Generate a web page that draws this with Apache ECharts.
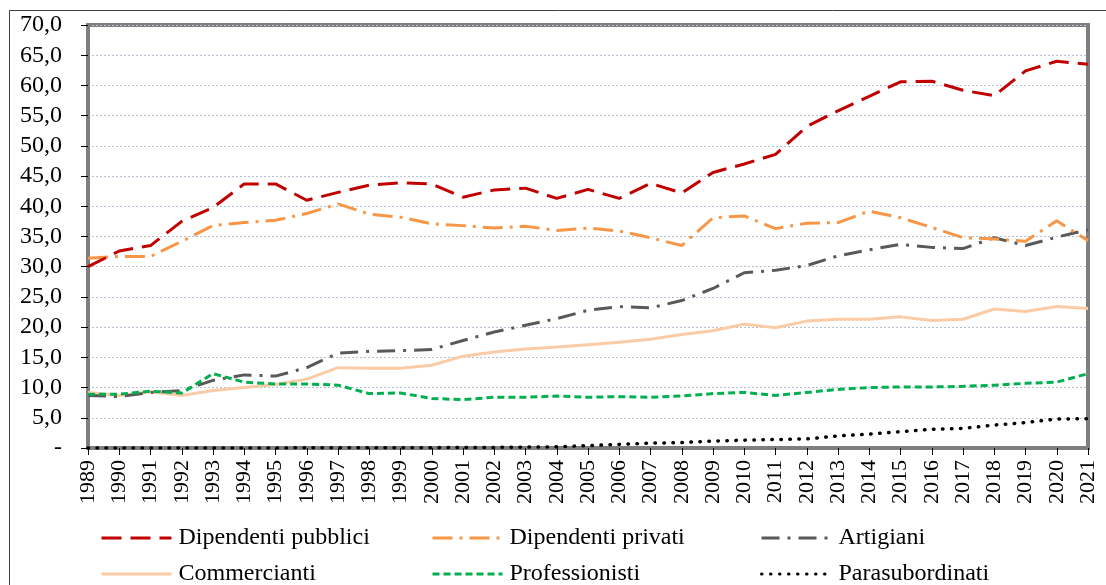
<!doctype html>
<html>
    <head>
        <meta charset="utf-8">
        <title>Line chart</title>
        <style>
            html, body { margin: 0; padding: 0; background: #fff; }
            #main { width: 1106px; height: 585px; }
        </style>
    </head>
    <body>
        <div id="main"></div>
        <script src="https://cdn.jsdelivr.net/npm/echarts@6/dist/echarts.min.js"></script>
        <script>
            var years = ['1989', '1990', '1991', '1992', '1993', '1994', '1995', '1996', '1997', '1998',
                '1999', '2000', '2001', '2002', '2003', '2004', '2005', '2006', '2007', '2008',
                '2009', '2010', '2011', '2012', '2013', '2014', '2015', '2016', '2017', '2018',
                '2019', '2020', '2021'];

            var pubblici = [30.0, 32.6, 33.5, 37.5, 39.8, 43.7, 43.7, 41.0, 42.3, 43.5,
                43.9, 43.7, 41.5, 42.7, 43.0, 41.3, 42.8, 41.3, 43.8, 42.2,
                45.6, 47.0, 48.6, 53.2, 55.8, 58.2, 60.6, 60.7, 59.2, 58.3,
                62.4, 64.0, 63.5];
            var privati = [31.4, 31.7, 31.7, 34.2, 36.8, 37.3, 37.7, 38.8, 40.4, 38.7,
                38.2, 37.1, 36.8, 36.4, 36.7, 36.0, 36.4, 35.9, 34.8, 33.5,
                38.1, 38.4, 36.3, 37.2, 37.3, 39.2, 38.1, 36.5, 34.8, 34.6,
                34.2, 37.6, 34.3];
            var artigiani = [8.7, 8.5, 9.2, 9.5, 11.2, 12.1, 11.9, 13.3, 15.7, 16.0,
                16.1, 16.3, 17.8, 19.2, 20.3, 21.4, 22.8, 23.4, 23.2, 24.4,
                26.4, 29.0, 29.4, 30.2, 31.8, 32.8, 33.7, 33.2, 33.0, 34.8,
                33.5, 34.9, 36.1];
            var commercianti = [9.2, 8.7, 9.3, 8.7, 9.5, 10.0, 10.5, 11.4, 13.3, 13.2,
                13.2, 13.7, 15.2, 15.9, 16.4, 16.7, 17.1, 17.5, 18.0, 18.8,
                19.4, 20.5, 19.9, 21.0, 21.3, 21.3, 21.7, 21.1, 21.3, 23.0,
                22.6, 23.4, 23.1];
            var professionisti = [8.9, 8.9, 9.4, 9.1, 12.3, 10.9, 10.6, 10.6, 10.4, 9.0,
                9.1, 8.2, 8.0, 8.4, 8.4, 8.6, 8.4, 8.5, 8.4, 8.6,
                9.0, 9.2, 8.7, 9.2, 9.7, 10.0, 10.1, 10.1, 10.2, 10.4,
                10.7, 10.9, 12.3];
            var parasubordinati = [0, 0, 0, 0, 0, 0, 0, 0.05, 0.05, 0.05,
                0.05, 0.05, 0.1, 0.1, 0.15, 0.2, 0.4, 0.6, 0.8, 0.9,
                1.15, 1.3, 1.4, 1.5, 2.0, 2.3, 2.7, 3.1, 3.25, 3.8,
                4.2, 4.8, 4.85];

            var serif = '"Liberation Serif", "DejaVu Serif", serif';

            var seriesDefs = [
                { name: 'Dipendenti pubblici', data: pubblici, color: '#C00000', type: [20, 9], width: 3, z: 6 },
                { name: 'Dipendenti privati', data: privati, color: '#F79646', type: [20, 7, 3, 7], width: 3, z: 5 },
                { name: 'Artigiani', data: artigiani, color: '#595959', type: [18, 8, 3, 8], width: 3, z: 4 },
                { name: 'Commercianti', data: commercianti, color: '#FBCBA5', type: 'solid', width: 3, z: 3 },
                { name: 'Professionisti', data: professionisti, color: '#00B050', type: [7, 4], width: 3, z: 4 },
                { name: 'Parasubordinati', data: parasubordinati, color: '#000000', type: [0.5, 8.5], width: 3.5, cap: 'round', z: 7 }
            ];

            // legend placement: 3 columns x 2 rows
            var legendCols = [100, 431, 760];
            var legendRows = [526, 562];

            var chart = echarts.init(document.getElementById('main'));

            chart.setOption({
                backgroundColor: '#fff',
                animation: false,
                graphic: [{
                    type: 'rect',
                    shape: { x: 9.5, y: 10.5, width: 1200, height: 700 },
                    style: { fill: 'none', stroke: '#404040', lineWidth: 1 },
                    silent: true,
                    z: -1
                }],
                grid: {
                    left: 88,
                    right: 18,
                    top: 25,
                    bottom: 137,
                    show: true,
                    borderColor: '#7F7F7F',
                    borderWidth: 4,
                    backgroundColor: '#fff'
                },
                legend: seriesDefs.map(function (s, i) {
                    return {
                        data: [s.name],
                        left: legendCols[i % 3],
                        top: legendRows[Math.floor(i / 3)],
                        padding: 0,
                        itemWidth: 70,
                        itemHeight: 14,
                        itemGap: 6,
                        itemStyle: { color: 'rgba(0,0,0,0)', borderColor: 'rgba(0,0,0,0)', borderWidth: 0, opacity: 0 },
                        lineStyle: { width: 3 },
                        textStyle: { fontFamily: serif, fontSize: 24, color: '#000', padding: [0, 0, 0, 2] },
                        selectedMode: false
                    };
                }),
                xAxis: {
                    type: 'category',
                    data: years,
                    boundaryGap: false,
                    axisLine: { show: true, lineStyle: { color: '#7F7F7F', width: 4 } },
                    axisTick: { show: true, inside: false, length: 7, interval: 0, lineStyle: { color: '#000' } },
                    axisLabel: {
                        rotate: 90,
                        interval: 0,
                        margin: 12,
                        fontFamily: serif,
                        fontSize: 22,
                        color: '#000'
                    },
                    splitLine: { show: false }
                },
                yAxis: {
                    type: 'value',
                    min: 0,
                    max: 70,
                    interval: 5,
                    axisLine: { show: true, lineStyle: { color: '#7F7F7F', width: 4 } },
                    axisTick: { show: true, length: 7, lineStyle: { color: '#000' } },
                    axisLabel: {
                        margin: 26,
                        fontFamily: serif,
                        fontSize: 24,
                        color: '#000',
                        formatter: function (v) {
                            return v === 0 ? '-' : v.toFixed(1).replace('.', ',');
                        }
                    },
                    splitLine: { show: true, lineStyle: { color: '#B4C0D4', type: [2, 2], width: 1 } }
                },
                series: seriesDefs.map(function (s) {
                    return {
                        name: s.name,
                        type: 'line',
                        data: s.data,
                        symbol: 'none',
                        smooth: false,
                        z: s.z,
                        itemStyle: { color: s.color },
                        lineStyle: { color: s.color, width: s.width, type: s.type, cap: s.cap || 'butt' }
                    };
                })
            });

            window.onresize = chart.resize;
        </script>
    </body>
</html>
